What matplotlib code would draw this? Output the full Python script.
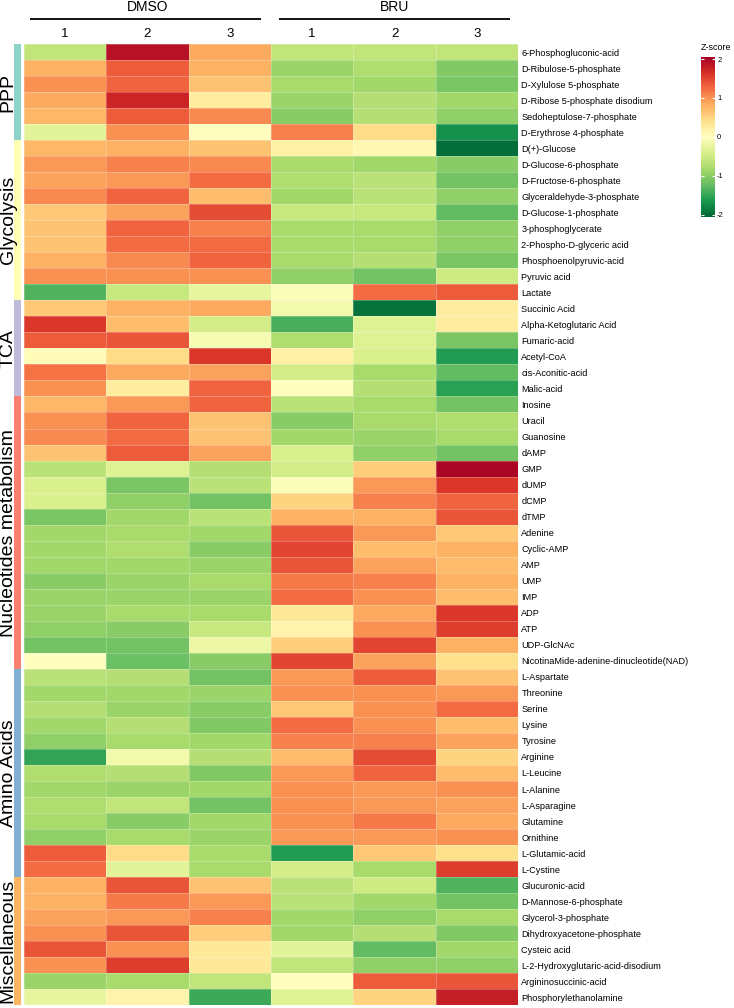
import numpy as np
import matplotlib
matplotlib.use("Agg")
import matplotlib.pyplot as plt
from matplotlib.transforms import blended_transform_factory

plt.rcParams['font.family'] = ['Liberation Sans', 'DejaVu Sans']
plt.rcParams['axes.unicode_minus'] = False

metabolites = [
    "6-Phosphogluconic-acid", "D-Ribulose-5-phosphate", "D-Xylulose 5-phosphate",
    "D-Ribose 5-phosphate disodium", "Sedoheptulose-7-phosphate", "D-Erythrose 4-phosphate",
    "D(+)-Glucose", "D-Glucose-6-phosphate", "D-Fructose-6-phosphate",
    "Glyceraldehyde-3-phosphate", "D-Glucose-1-phosphate", "3-phosphoglycerate",
    "2-Phospho-D-glyceric acid", "Phosphoenolpyruvic-acid", "Pyruvic acid", "Lactate",
    "Succinic Acid", "Alpha-Ketoglutaric Acid", "Fumaric-acid", "Acetyl-CoA",
    "cis-Aconitic-acid", "Malic-acid",
    "Inosine", "Uracil", "Guanosine", "dAMP", "GMP", "dUMP", "dCMP", "dTMP", "Adenine",
    "Cyclic-AMP", "AMP", "UMP", "IMP", "ADP", "ATP", "UDP-GlcNAc",
    "NicotinaMide-adenine-dinucleotide(NAD)",
    "L-Aspartate", "Threonine", "Serine", "Lysine", "Tyrosine", "Arginine", "L-Leucine",
    "L-Alanine", "L-Asparagine", "Glutamine", "Ornithine", "L-Glutamic-acid", "L-Cystine",
    "Glucuronic-acid", "D-Mannose-6-phosphate", "Glycerol-3-phosphate",
    "Dihydroxyacetone-phosphate", "Cysteic acid", "L-2-Hydroxyglutaric-acid-disodium",
    "Argininosuccinic-acid", "Phosphorylethanolamine",
]

groups = ["PPP", "Glycolysis", "TCA", "Nucleotides metabolism", "Amino Acids", "Miscellaneous"]
group_sizes = [6, 10, 6, 17, 13, 8]
group_colors = ["#8dd3c7", "#ffffb3", "#bebada", "#fb8072", "#80b1d3", "#fdb462"]

conditions = ["DMSO", "BRU"]
replicates = ["1", "2", "3", "1", "2", "3"]

dmso_1 = [-0.6, 0.8, 1.0, 0.85, 0.75, -0.3, 0.75, 0.95, 0.9, 1.05, 0.6, 0.65, 0.65, 0.8, 1.0, -1.35,
          0.6, 1.6, 1.35, 0.05, 1.2, 1.0,
          0.75, 1.0, 1.05, 0.65, -0.65, -0.4, -0.4, -1.1, -0.85, -0.85, -0.85, -1.0, -0.9, -0.9, -0.95, -1.15, 0.0,
          -0.65, -0.85, -0.7, -0.85, -0.95, -1.5, -0.75, -0.85, -0.75, -0.8, -0.95, 1.35, 1.25,
          0.8, 0.8, 0.9, 1.0, 1.4, 1.0, -0.9, -0.25]
dmso_2 = [1.9, 1.35, 1.3, 1.75, 1.35, 1.0, 0.8, 1.1, 0.95, 1.3, 0.9, 1.3, 1.25, 1.05, 1.0, -0.55,
          0.8, 0.7, 1.4, 0.45, 0.85, 0.25,
          0.95, 1.3, 1.25, 1.35, -0.35, -1.1, -0.95, -0.85, -0.8, -0.75, -0.85, -0.9, -0.9, -0.8, -1.0, -1.15, -1.2,
          -0.7, -0.85, -0.9, -0.7, -0.8, -0.15, -0.7, -0.9, -0.6, -1.0, -0.8, 0.45, -0.3,
          1.4, 1.15, 0.95, 1.4, 1.0, 1.55, -0.8, 0.15]
dmso_3 = [0.85, 0.8, 0.65, 0.25, 1.05, 0.0, 0.65, 1.05, 1.25, 0.7, 1.45, 1.1, 1.25, 1.3, 1.0, -0.25,
          0.85, -0.45, -0.1, 1.6, 0.9, 1.3,
          1.3, 0.65, 0.65, 0.9, -0.7, -0.65, -1.15, -0.65, -0.85, -1.0, -0.9, -0.8, -0.9, -0.8, -0.55, -0.2, -1.0,
          -1.15, -0.9, -1.0, -1.05, -0.85, -0.7, -1.05, -0.85, -1.15, -0.85, -0.9, -0.8, -0.8,
          0.65, 0.95, 1.1, 0.55, 0.3, 0.3, -0.6, -1.45]
bru_1 = [-0.6, -0.9, -0.8, -0.9, -1.0, 1.1, 0.2, -0.8, -0.75, -0.85, -0.55, -0.8, -0.8, -0.8, -0.95, -0.05,
         -0.15, -1.4, -0.75, 0.2, -0.45, 0.0,
         -0.65, -1.0, -0.85, -0.4, -0.45, -0.05, 0.5, 0.8, 1.4, 1.5, 1.4, 1.15, 1.25, 0.3, 0.15, 0.55, 1.5,
         0.95, 1.0, 0.6, 1.25, 1.1, 0.7, 0.95, 1.0, 1.0, 1.0, 0.95, -1.6, -0.45,
         -0.65, -0.65, -0.85, -0.85, -0.3, -0.6, 0.0, -0.35]
bru_2 = [-0.6, -0.75, -0.85, -0.7, -0.7, 0.45, 0.1, -0.85, -0.65, -0.65, -0.55, -0.8, -0.8, -0.7, -1.15, 1.25,
         -1.95, -0.35, -0.35, -0.4, -0.8, -0.7,
         -0.8, -0.8, -0.9, -0.95, 0.55, 0.95, 1.1, 0.8, 0.95, 0.7, 0.9, 1.1, 1.0, 0.85, 1.0, 1.5, 0.9,
         1.35, 1.0, 1.0, 1.0, 1.1, 1.45, 1.3, 0.95, 0.95, 1.15, 0.95, 0.6, -0.8,
         -0.5, -0.85, -0.95, -0.7, -1.25, -0.95, 1.35, 0.5]
bru_3 = [-0.6, -1.05, -1.1, -0.85, -0.95, -1.7, -2.0, -1.0, -1.15, -0.95, -1.25, -0.95, -0.95, -1.1, -0.5, 1.35,
         0.25, 0.25, -1.1, -1.6, -1.25, -1.55,
         -1.15, -0.75, -0.8, -1.15, 2.0, 1.6, 1.3, 1.4, 0.6, 0.8, 0.7, 0.8, 0.7, 1.6, 1.55, 0.8, 0.4,
         0.65, 0.95, 1.25, 0.7, 0.9, 0.5, 0.7, 1.0, 0.9, 0.85, 1.0, 0.4, 1.55,
         -1.35, -1.15, -0.8, -1.05, -0.85, -0.95, 1.4, 1.8]

data = np.column_stack([dmso_1, dmso_2, dmso_3, bru_1, bru_2, bru_3])
n_rows, n_cols = data.shape

W, H = 734, 1008
fig = plt.figure(figsize=(W / 100, H / 100), dpi=100)


def box(x0, y0, x1, y1):
    return [x0 / W, 1 - y1 / H, (x1 - x0) / W, (y1 - y0) / H]


ax = fig.add_axes(box(24, 44, 518, 1005.3))
mesh = ax.pcolormesh(data, cmap="RdYlGn_r", vmin=-2.06, vmax=2.06,
                     edgecolors=(1, 1, 1, 0.25), linewidth=0.4)
ax.set_xlim(0, n_cols)
ax.set_ylim(n_rows, 0)
ax.set_yticks(np.arange(n_rows) + 0.5, metabolites, fontsize=6.6)
ax.yaxis.tick_right()
ax.tick_params(axis="y", length=0, pad=2.5)
ax.set_xticks(np.arange(n_cols) + 0.5, replicates, fontsize=9.5)
ax.xaxis.tick_top()
ax.tick_params(axis="x", length=0, pad=3)
for s in ax.spines.values():
    s.set_visible(False)

trans = blended_transform_factory(ax.transData, ax.transAxes)
for name, (x0, x1), xc in zip(conditions, [(0.07, 2.88), (3.1, 5.9)], [1.5, 4.5]):
    ax.plot([x0, x1], [1.0263, 1.0263], transform=trans, color="black", lw=1.3,
            clip_on=False, solid_capstyle="butt")
    ax.text(xc, 1.0388, name, transform=trans, ha="center", va="center", fontsize=10)

# group strip
gax = fig.add_axes(box(14, 44, 20.7, 1005.3))
starts = np.concatenate([[0], np.cumsum(group_sizes)[:-1]])
gax.bar(0.5, group_sizes, bottom=starts, width=1, color=group_colors)
gax.set_xlim(0, 1)
gax.set_ylim(n_rows, 0)
gax.axis("off")
gtrans = blended_transform_factory(gax.transAxes, gax.transData)
for name, st, sz in zip(groups, starts, group_sizes):
    gax.text(-0.85, st + sz / 2, name, transform=gtrans, rotation=90,
             ha="center", va="center", fontsize=14)

# colour bar
cax = fig.add_axes(box(701, 56.7, 715, 217))
cb = fig.colorbar(mesh, cax=cax, ticks=[-2, -1, 0, 1, 2])
cb.outline.set_visible(False)
cax.tick_params(direction="in", color="white", length=2.5, width=0.8,
                labelsize=5.5, pad=1.5, left=True, right=True)
fig.text(701 / W, 1 - 48 / H, "Z-score", fontsize=6.5, ha="left", va="center")

fig.savefig("out.png", dpi=100)
